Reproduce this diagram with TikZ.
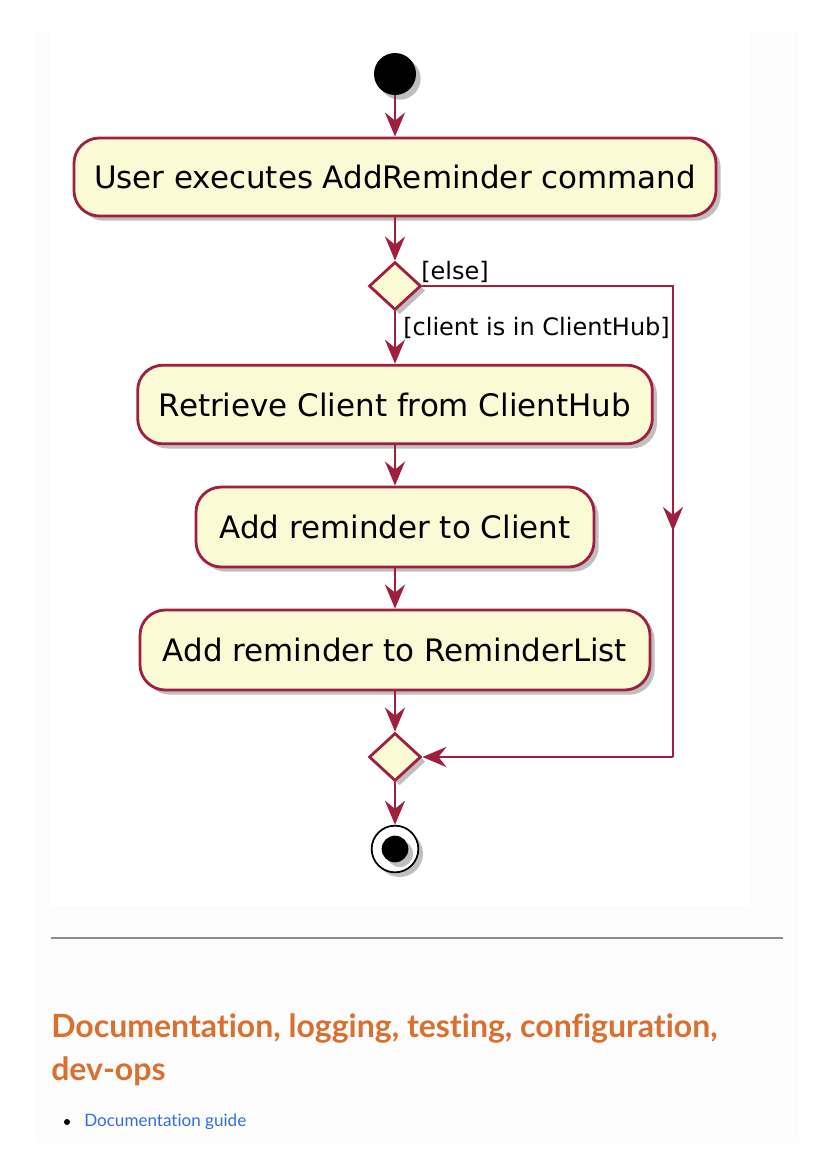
\documentclass[tikz,border=0pt]{standalone}
\usepackage{fontspec}
\setmainfont{DejaVu Sans}
\newfontfamily\headfont[Ligatures=NoCommon]{Lato}
\usetikzlibrary{shapes.geometric,shadows,arrows.meta}
\definecolor{umlred}{HTML}{A01E3E}
\definecolor{umlfill}{HTML}{FAFAD4}
\definecolor{panel}{HTML}{FCFCFC}
\definecolor{headorange}{HTML}{DA7030}
\definecolor{linkblue}{HTML}{2F6FD6}
\begin{document}
\begin{tikzpicture}[x=0.75pt,y=-0.75pt,
  shad/.style={drop shadow={shadow xshift=3.5pt,shadow yshift=-3.5pt,fill=black!50,opacity=0.5}},
  act/.style={draw=umlred,line width=2.1pt,fill=umlfill,rounded corners=19pt,shad,inner sep=0pt,
    font=\fontsize{23.2}{27}\selectfont},
  dec/.style={diamond,draw=umlred,line width=2.1pt,fill=umlfill,minimum width=39pt,minimum height=36pt,
    inner sep=0pt,shad},
  flow/.style={draw=umlred,line width=2.1pt,-{Stealth[length=18pt,width=15pt,inset=6pt]}},
  plain/.style={draw=umlred,line width=2.1pt},
  guard/.style={font=\fontsize{18}{21}\selectfont,inner sep=0pt},
  head/.style={anchor=base west,inner sep=0pt,text=headorange,font=\headfont\bfseries\fontsize{24}{28}\selectfont}]
\useasboundingbox (0,0) rectangle (824,1158);
\fill[white] (0,0) rectangle (824,1158);
\fill[panel] (35,32) rectangle (799,1143);
\fill[white] (51,32) rectangle (750,906);
% nodes
\node[circle,fill=black,minimum size=31.5pt,inner sep=0pt,shad] (start) at (395,74) {};
\node[act,minimum width=481.5pt,minimum height=58.5pt] (a1) at (395,177) {User executes AddReminder command};
\node[dec] (d1) at (395,286) {};
\node[act,minimum width=386pt,minimum height=59pt] (a2) at (395,404.5) {Retrieve Client from ClientHub};
\node[act,minimum width=298.5pt,minimum height=60pt] (a3) at (395,527) {Add reminder to Client};
\node[act,minimum width=382.5pt,minimum height=60pt] (a4) at (395,650) {Add reminder to ReminderList};
\node[dec] (d2) at (395,757) {};
\node[circle,draw=black,line width=1.3pt,fill=white,minimum size=35pt,inner sep=0pt,shad] (end) at (395,849) {};
\node[circle,fill=black,minimum size=20pt,inner sep=0pt,shad] (endin) at (end.center) {};
% guards
\node[guard,anchor=west] (lelse) at (421,272) {[else]};
\node[guard,anchor=west] (lclient) at (403,328) {[client is in ClientHub]};
% connectors
\draw[flow] (start) -- (a1);
\draw[flow] (a1) -- (d1);
\draw[flow] (d1) -- (a2);
\draw[flow] (a2) -- (a3);
\draw[flow] (a3) -- (a4);
\draw[flow] (a4) -- (d2);
\draw[flow] (d2) -- (end);
\coordinate (c1) at (673,286);
\coordinate (cm) at (673,531);
\coordinate (c2) at (673,757);
\draw[plain] (d1.east) -- (c1) -- (c2);
\draw[flow] (c2) -- (d2.east);
\draw[flow] (c1) -- (cm);
% page text
\coordinate (r1) at (51,938);
\coordinate (r2) at (783,938);
\draw[black!45,line width=1.1pt] (r1) -- (r2);
\node[head] (h1) at (51,1037) {Documentation, logging, testing, configuration,};
\node[head] (h2) at (51,1080) {dev-ops};
\node[circle,fill=black,minimum size=4.5pt,inner sep=0pt] (bul) at (67,1122) {};
\node[anchor=west,inner sep=0pt,text=linkblue,font=\headfont\fontsize{12.8}{15}\selectfont] (link) at (84,1122) {Documentation guide};
\end{tikzpicture}
\end{document}
